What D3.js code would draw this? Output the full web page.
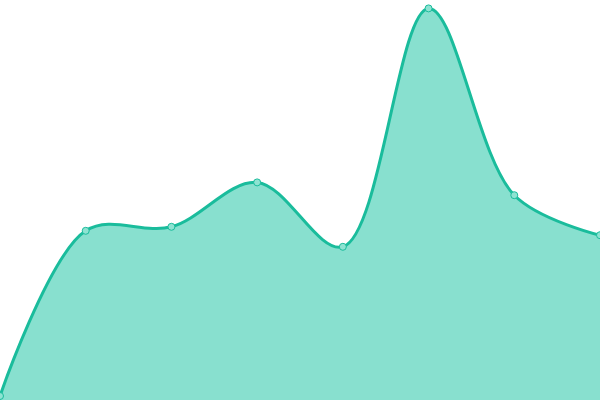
<!DOCTYPE html>
<html>
<head>
<meta charset="utf-8">
<script src="https://cdn.jsdelivr.net/npm/d3@7"></script>
<style>
  body { margin: 0; background: #fff; }
  svg { display: block; }
</style>
</head>
<body>
<div id="chart"></div>
<script>
// chart data
var categories = ["A", "B", "C", "D", "E", "F", "G", "H"];
var values = [1, 42.3, 43.3, 54.4, 38.3, 97.9, 51.2, 41.2];

var width = 600, height = 400;
var lineColor = "#1abc9c";
var fillColor = "#88e0cf";

var svg = d3.select("#chart").append("svg")
    .attr("width", width)
    .attr("height", height);

var x = d3.scalePoint().domain(categories).range([0, width]);
var y = d3.scaleLinear().domain([0, 100]).range([height, 0]);

var data = categories.map(function (c, i) {
    return {cat: c, val: values[i]};
});

var curve = d3.curveCatmullRom;

var area = d3.area()
    .x(function (d) { return x(d.cat); })
    .y0(y(0))
    .y1(function (d) { return y(d.val); })
    .curve(curve);

var line = d3.line()
    .x(function (d) { return x(d.cat); })
    .y(function (d) { return y(d.val); })
    .curve(curve);

svg.append("path")
    .datum(data)
    .attr("d", area)
    .attr("fill", fillColor);

svg.append("path")
    .datum(data)
    .attr("d", line)
    .attr("fill", "none")
    .attr("stroke", lineColor)
    .attr("stroke-width", 3);

//points
svg.selectAll("circle")
    .data(data)
    .enter()
    .append("circle")
    .attr("cx", function (d) { return x(d.cat); })
    .attr("cy", function (d) { return y(d.val); })
    .attr("r", 3.5)
    .attr("fill", "#8ee3d2")
    .attr("stroke", lineColor)
    .attr("stroke-width", 1);
</script>
</body>
</html>
